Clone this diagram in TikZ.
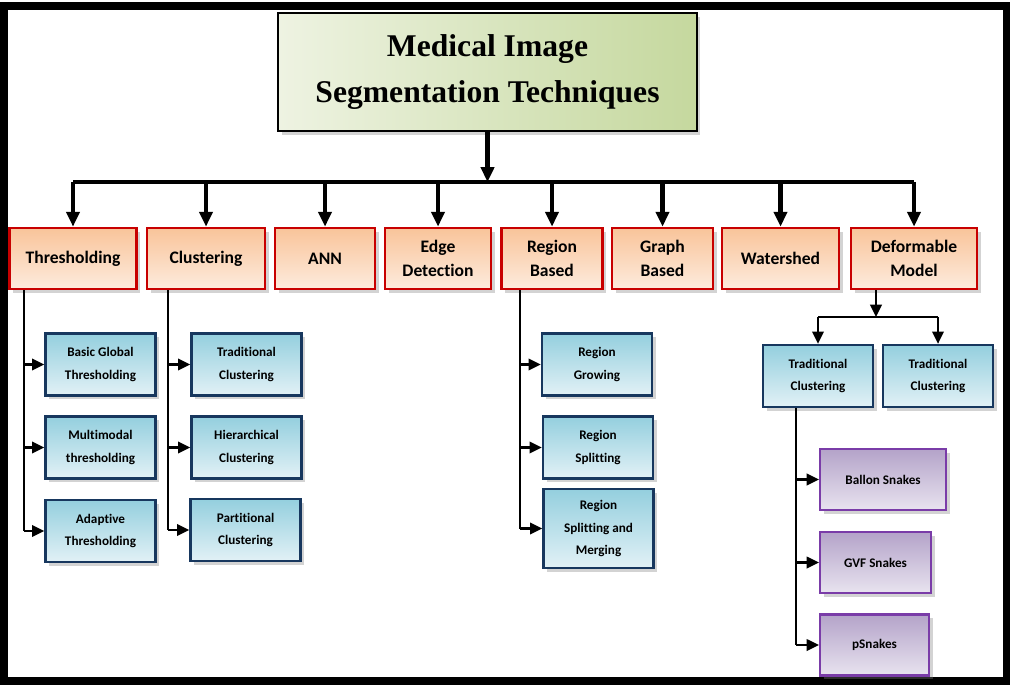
\documentclass[tikz,border=0pt]{standalone}
\usepackage{fontspec}
\setmainfont{Carlito}[Ligatures=NoCommon]
\newfontfamily\titlefont{Liberation Serif}
\usetikzlibrary{arrows.meta,shadows}
\definecolor{greenL}{HTML}{EEF3E2}
\definecolor{greenD}{HTML}{C5D89E}
\definecolor{orangeL}{HTML}{FDEBDD}
\definecolor{orangeD}{HTML}{F9C49A}
\definecolor{redB}{HTML}{C80000}
\definecolor{blueL}{HTML}{E2F1F6}
\definecolor{blueD}{HTML}{94CFDE}
\definecolor{navyB}{HTML}{17375E}
\definecolor{purpleL}{HTML}{E8E3EF}
\definecolor{purpleD}{HTML}{B4A3C9}
\definecolor{purpleB}{HTML}{7A3CA8}
\begin{document}
\begin{tikzpicture}[x=0.02cm,y=-0.02cm,
  shadowed/.style={drop shadow={shadow xshift=2pt,shadow yshift=-2pt,opacity=0.35}},
  title/.style={draw,line width=1.3pt,shadowed,left color=greenL,right color=greenD,
    minimum width=8.38cm,minimum height=2.36cm,align=center,
    font=\titlefont\bfseries\fontsize{18}{26.5}\selectfont},
  method/.style={draw=redB,line width=1.5pt,shadowed,top color=orangeD,bottom color=orangeL,
    minimum height=1.22cm,align=center,font=\bfseries\fontsize{10}{13.6}\selectfont},
  sub/.style={draw=navyB,line width=1.3pt,shadowed,top color=blueD,bottom color=blueL,
    minimum width=2.2cm,minimum height=1.24cm,align=center,font=\bfseries\fontsize{7.5}{13}\selectfont},
  snake/.style={draw=purpleB,line width=1.2pt,shadowed,top color=purpleD,bottom color=purpleL,
    minimum height=1.22cm,align=center,font=\bfseries\fontsize{7.5}{13}\selectfont},
  bigarrow/.style={line width=2.3pt,-{Triangle[length=8.5pt,width=7.5pt]}},
  midarrow/.style={line width=1.3pt,-{Triangle[length=7pt,width=6.5pt]}},
  trunk/.style={line width=0.9pt}]
\useasboundingbox (0,0) rectangle (1016,696);
\draw[line width=4pt] (4,6) rectangle (1006,681);

\node[title] (root) at (487.5,72) {Medical Image\\Segmentation Techniques};

\node[method,minimum width=2.54cm] (thr)    at (73,258.5)  {Thresholding};
\node[method,minimum width=2.36cm] (clu)    at (206,258.5) {Clustering};
\node[method,minimum width=2.0cm]  (ann)    at (325,258.5) {ANN};
\node[method,minimum width=2.12cm] (edge)   at (438,258.5) {Edge\\Detection};
\node[method,minimum width=2.02cm] (reg)    at (552,258.5) {Region\\Based};
\node[method,minimum width=2.02cm] (graph)  at (662.5,258.5) {Graph\\Based};
\node[method,minimum width=2.34cm] (water)  at (780.5,258.5) {Watershed};
\node[method,minimum width=2.52cm] (deform) at (914,258.5) {Deformable\\Model};

\coordinate (hub) at (487.5,182);
\draw[bigarrow] (root) -- (hub);
\draw[line width=2.3pt] (thr.north |- hub) -- (deform.north |- hub);
\foreach \n in {thr,clu,ann,edge,reg,graph,water,deform}
  \draw[bigarrow] (\n.north |- hub) -- (\n.north);

% thresholding
\node[sub] (b1) at (100.5,364.5) {Basic Global\\Thresholding};
\node[sub] (b2) at (100.5,447.5) {Multimodal\\thresholding};
\node[sub] (b3) at (100.5,531)   {Adaptive\\Thresholding};
\coordinate (tx) at (24,0);
\draw[trunk] (thr.south -| tx) -- (tx |- b3);
\foreach \b in {b1,b2,b3}
  \draw[midarrow] (tx |- \b) -- (\b.west);

% clustering
\node[sub] (c1) at (246.5,364.5) {Traditional\\Clustering};
\node[sub] (c2) at (246.5,447.5) {Hierarchical\\Clustering};
\node[sub] (c3) at (245.5,530)   {Partitional\\Clustering};
\coordinate (cx) at (168,0);
\draw[trunk] (clu.south -| cx) -- (cx |- c3);
\foreach \b in {c1,c2,c3}
  \draw[midarrow] (cx |- \b) -- (\b.west);

% region based
\node[sub] (r1) at (597,364.5)   {Region\\Growing};
\node[sub] (r2) at (598,447.5)   {Region\\Splitting};
\node[sub,minimum height=1.58cm] (r3) at (598.5,528.5) {Region\\Splitting and\\Merging};
\coordinate (rx) at (520,0);
\draw[trunk] (reg.south -| rx) -- (rx |- r3);
\foreach \b in {r1,r2,r3}
  \draw[midarrow] (rx |- \b) -- (\b.west);

% deformable model
\node[sub] (d1) at (818,376) {Traditional\\Clustering};
\node[sub] (d2) at (938,376) {Traditional\\Clustering};
\coordinate (dsplit) at (876,317);
\draw[midarrow] (deform.south -| dsplit) -- (dsplit);
\draw[line width=1.3pt] (d1.north |- dsplit) -- (d2.north |- dsplit);
\draw[midarrow] (d1.north |- dsplit) -- (d1.north);
\draw[midarrow] (d2.north |- dsplit) -- (d2.north);

\node[snake,minimum width=2.52cm] (p1) at (883,479.5) {Ballon Snakes};
\node[snake,minimum width=2.22cm] (p2) at (875.5,562.5) {GVF Snakes};
\node[snake,minimum width=2.18cm] (p3) at (874.5,645) {pSnakes};
\coordinate (px) at (796,0);
\draw[line width=1.3pt] (d1.south -| px) -- (px |- p3);
\foreach \b in {p1,p2,p3}
  \draw[midarrow] (px |- \b) -- (\b.west);
\end{tikzpicture}
\end{document}
